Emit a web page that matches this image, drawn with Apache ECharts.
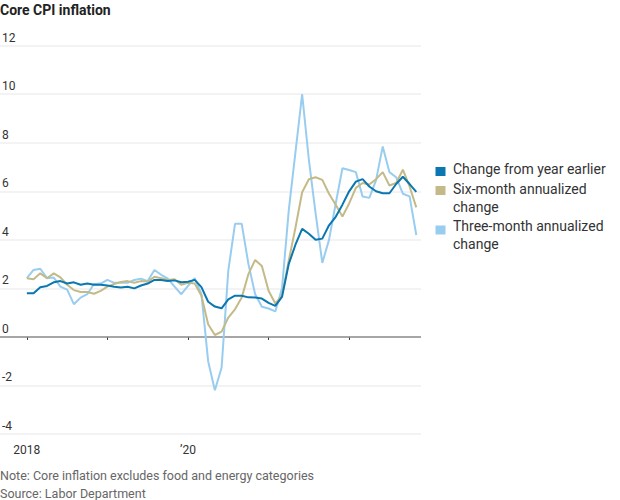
<!DOCTYPE html>
<html>
<head>
<meta charset="utf-8">
<script src="https://cdn.jsdelivr.net/npm/echarts@6/dist/echarts.min.js"></script>
<style>html,body{margin:0;padding:0;background:#fff}#c{width:620px;height:500px}</style>
</head>
<body>
<div id="c"></div>
<script>
// Month index 0 = Jan 2018 ... 58 = Nov 2022
var yearTicks = [0, 12, 24, 36, 48];
var yearLabels = {0: '2018', 24: '\u201920'};
var yoy = [1.8,1.8,2.05,2.1,2.25,2.3,2.2,2.25,2.15,2.2,2.15,2.15,
  2.12,2.07,2.04,2.07,2.0,2.12,2.2,2.35,2.35,2.3,2.33,2.25,
  2.27,2.35,2.05,1.45,1.25,1.18,1.55,1.7,1.7,1.63,1.62,1.58,
  1.4,1.28,1.65,3.0,3.8,4.45,4.25,4.0,4.05,4.6,4.95,5.45,
  6.0,6.4,6.5,6.2,6.0,5.92,5.92,6.3,6.6,6.3,5.98];
var sixMonth = [2.42,2.38,2.62,2.42,2.62,2.45,2.15,1.93,1.85,1.85,1.78,1.9,
  2.07,2.18,2.26,2.3,2.23,2.3,2.28,2.48,2.42,2.35,2.38,2.15,
  2.23,2.2,1.7,0.52,0.08,0.22,0.8,1.14,1.62,2.59,3.17,2.92,
  1.9,1.38,1.7,3.14,4.5,5.96,6.5,6.58,6.47,5.9,5.45,4.96,
  5.5,6.14,6.34,6.28,6.5,6.79,6.24,6.34,6.89,6.2,5.34];
var threeMonth = [2.42,2.76,2.81,2.42,2.45,2.07,1.95,1.35,1.62,1.76,2.18,2.2,
  2.35,2.23,2.23,2.23,2.35,2.4,2.3,2.76,2.56,2.4,2.07,1.76,
  2.1,2.42,1.76,-1.0,-2.2,-1.27,2.73,4.66,4.66,3.0,1.76,1.24,
  1.17,1.05,2.0,5.2,7.6,10.0,7.3,5.1,3.05,4.0,5.5,6.95,
  6.88,6.79,5.79,5.73,6.45,7.85,6.79,6.58,5.9,5.79,4.2];
var seriesNames = ['Change from year earlier', 'Six-month annualized change', 'Three-month annualized change'];
var legendLines = [['Change from year earlier'], ['Six-month annualized', 'change'], ['Three-month annualized', 'change']];
var colors = ['#0a77b0', '#c4ba88', '#98cdf0'];

function pairs(arr){ return arr.map(function(v,i){ return [i, v]; }); }

var FONT = 'Roboto, "Noto Sans", sans-serif';
var chart = echarts.init(document.getElementById('c'), null, {renderer: 'svg'});

var legendGraphics = [];
var legendTextTops = [160, 180, 217];
var legendRectTops = [167, 186, 225.5];
legendLines.forEach(function(lines, k){
  legendGraphics.push({type:'rect', left:435.5, top: legendRectTops[k], shape:{width:10, height:9}, style:{fill: colors[k]}});
  legendGraphics.push({type:'text', left:453, top: legendTextTops[k], style:{text: lines.join('\n'), fill:'#333', font: '14px ' + FONT, lineHeight: 18}});
});

chart.setOption({
  animation: false,
  title: {text: 'Core CPI inflation', left: 0, top: 3, padding: 0,
    textStyle: {fontFamily: FONT, fontSize: 14, fontWeight: 'bold', color: '#222'}},
  grid: {left: 0, right: 199, top: 45.7, bottom: 66, outerBoundsMode: 'none', containLabel: false},
  xAxis: {type: 'value', min: -4, max: 58.7,
    axisLine: {show: false},
    splitLine: {show: false},
    axisTick: {show: true, customValues: yearTicks, length: 3, lineStyle: {color: '#333', width: 1}},
    axisLabel: {show: true, customValues: [0, 24], margin: 10, color: '#333', fontFamily: FONT, fontSize: 12,
      formatter: function(v){ return yearLabels[v] || ''; }}
  },
  yAxis: {type: 'value', min: -4, max: 12, interval: 2,
    axisLine: {show: false}, axisTick: {show: false},
    splitLine: {show: true, lineStyle: {color: '#efefef', width: 1.5}},
    axisLabel: {inside: true, margin: 2, align: 'left', verticalAlign: 'bottom', padding: [0,0,2,0],
      color: '#333', fontFamily: FONT, fontSize: 12}
  },
  series: [
    {name: seriesNames[2], type: 'line', data: pairs(threeMonth), symbol: 'none',
      lineStyle: {color: colors[2], width: 2}, itemStyle: {color: colors[2]}, z: 3},
    {name: seriesNames[1], type: 'line', data: pairs(sixMonth), symbol: 'none',
      lineStyle: {color: colors[1], width: 2}, itemStyle: {color: colors[1]}, z: 4},
    {name: seriesNames[0], type: 'line', data: pairs(yoy), symbol: 'none',
      lineStyle: {color: colors[0], width: 2}, itemStyle: {color: colors[0]}, z: 5,
      markLine: {silent: true, symbol: 'none', label: {show: false}, animation: false,
        lineStyle: {color: '#8c8c8c', width: 1.5, type: 'solid'}, z: 2,
        data: [{yAxis: 0}]}}
  ],
  graphic: legendGraphics.concat([
    {type: 'text', left: 0, top: 469, style: {text: 'Note: Core inflation excludes food and energy categories', fill: '#666', font: '12.5px ' + FONT}},
    {type: 'text', left: 0, top: 487, style: {text: 'Source: Labor Department', fill: '#666', font: '12.5px ' + FONT}}
  ])
});
</script>
</body>
</html>
